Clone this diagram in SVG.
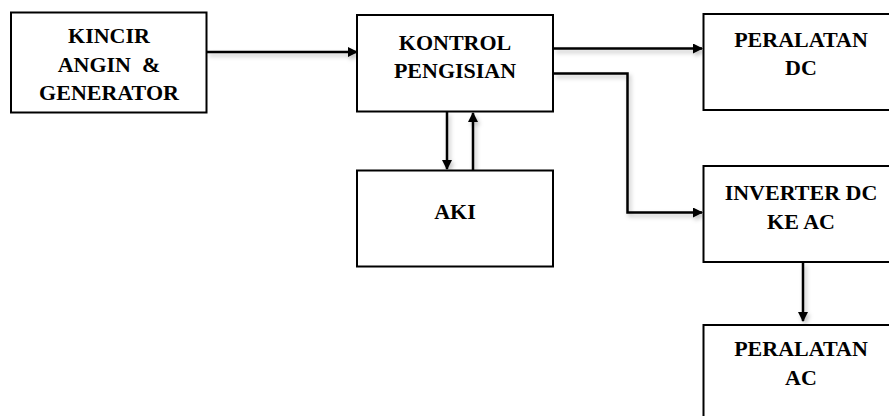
<svg xmlns="http://www.w3.org/2000/svg" width="889" height="416" viewBox="0 0 889 416">
<defs>
<style>
.box{fill:#fff;stroke:#000;stroke-width:2}
.t{font-family:"Liberation Serif","Times New Roman",serif;font-weight:bold;font-size:22px;text-anchor:middle;fill:#000}
.c{fill:none;stroke:#000;stroke-width:2.5;marker-end:url(#ah)}
</style>
<marker id="ah" viewBox="0 0 10 10" refX="9" refY="5" markerWidth="4" markerHeight="4" orient="auto" markerUnits="strokeWidth">
<path d="M0,0 L10,5 L0,10 z" fill="#000"/>
</marker>
<filter id="sh" x="-20%" y="-20%" width="140%" height="140%">
<feDropShadow dx="2" dy="3" stdDeviation="2" flood-color="#000" flood-opacity="0.25"/>
</filter>
</defs>
<rect width="889" height="416" fill="#fff"/>
<g id="connectors" filter="url(#sh)">
<path class="c" d="M207,52 H357"/>
<path class="c" d="M554,48.5 H702"/>
<path class="c" d="M554,73.5 H627.5 V212.5 H702"/>
<path class="c" d="M447,112 V169"/>
<path class="c" d="M473,170 V113"/>
<path class="c" d="M803,263 V321"/>
</g>
<g font-family="Liberation Serif, Times New Roman, serif" font-weight="bold" font-size="22">
<g id="kincir">
<rect class="box" x="11" y="12.5" width="195.5" height="100"/>
<text class="t" x="109" y="42.5">KINCIR</text>
<text class="t" x="109" y="71.5" xml:space="preserve">ANGIN  &amp;</text>
<text class="t" x="109" y="100">GENERATOR</text>
</g>
<g id="kontrol">
<rect class="box" x="357" y="15" width="196" height="96.5"/>
<text class="t" x="455" y="49.5">KONTROL</text>
<text class="t" x="455" y="77.5">PENGISIAN</text>
</g>
<g id="aki">
<rect class="box" x="357" y="170.5" width="196" height="96"/>
<text class="t" x="455" y="218.5">AKI</text>
</g>
<g id="peralatan-dc">
<rect class="box" x="703.5" y="14" width="196" height="96"/>
<text class="t" x="801" y="46.5">PERALATAN</text>
<text class="t" x="801" y="75">DC</text>
</g>
<g id="inverter">
<rect class="box" x="703.5" y="166" width="196" height="96"/>
<text class="t" x="801" y="199.5">INVERTER DC</text>
<text class="t" x="801" y="228.5">KE AC</text>
</g>
<g id="peralatan-ac">
<rect class="box" x="703.5" y="325" width="196" height="96"/>
<text class="t" x="801" y="356">PERALATAN</text>
<text class="t" x="801" y="385">AC</text>
</g>
</g>
</svg>
